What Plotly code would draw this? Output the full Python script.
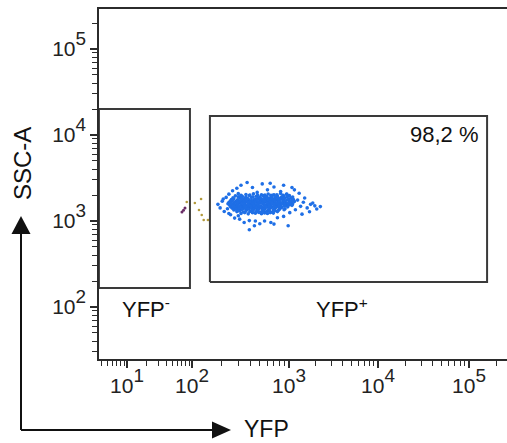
import numpy as np
import plotly.graph_objects as go

# ---------------- data ----------------
# YFP+ events: (YFP, SSC-A)
POS_CORE = [
    (300,2080),(360,2030),(430,2070),(520,2010),(610,2060),(700,2020),(820,2090),(940,2040),
    (280,1960),(330,1930),(390,1980),(460,1940),(540,1970),(590,1920),(680,1990),(760,1950),(880,1930),(1010,1970),
    (265,1860),(310,1880),(350,1840),(410,1870),(480,1830),(560,1865),(630,1845),(720,1875),(800,1835),(900,1860),(1050,1850),
    (255,1775),(295,1760),(340,1790),(385,1765),(440,1780),(500,1755),(570,1785),(650,1770),(740,1760),(830,1790),(960,1765),(1120,1775),
    (248,1705),(285,1690),(325,1715),(370,1695),(420,1710),(470,1685),(530,1700),(600,1720),(680,1690),(770,1705),(870,1695),(1000,1715),(1150,1690),
    (240,1640),(275,1650),(315,1630),(355,1645),(400,1625),(450,1655),(505,1635),(565,1650),(640,1630),(720,1645),(810,1625),(920,1650),(1060,1640),
    (235,1585),(268,1570),(300,1590),(340,1575),(385,1595),(430,1565),(480,1580),(540,1600),(605,1570),(680,1585),(760,1575),(860,1595),(980,1570),(1100,1585),
    (245,1525),(280,1510),(320,1530),(360,1515),(405,1520),(455,1535),(515,1505),(580,1525),(650,1515),(730,1530),(820,1510),(940,1525),(1080,1520),
    (250,1465),(290,1450),(330,1470),(375,1455),(420,1460),(470,1475),(530,1445),(595,1465),(670,1455),(750,1470),(850,1450),(970,1460),
    (260,1405),(300,1390),(345,1410),(390,1395),(440,1400),(495,1415),(560,1385),(630,1405),(710,1395),(800,1410),(910,1390),
    (270,1345),(315,1330),(365,1350),(415,1335),(470,1340),(535,1355),(605,1325),(690,1345),(780,1335),(890,1350),
    (290,1285),(340,1270),(395,1290),(455,1275),(520,1280),(590,1295),(670,1265),(760,1285),
    (320,1225),(380,1210),(450,1230),(520,1215),(600,1220),(690,1235),
]
POS_CORE_2 = [
    (320,1995),(395,2005),(475,1990),(565,2000),(650,1985),(750,2010),(870,1995),
    (300,1905),(360,1895),(425,1910),(500,1890),(580,1905),(660,1900),(740,1915),(840,1895),(960,1905),
    (270,1815),(325,1805),(375,1820),(450,1800),(520,1815),(600,1810),(690,1800),(780,1820),(880,1810),(1000,1800),
    (262,1740),(315,1730),(360,1745),(410,1725),(465,1740),(540,1735),(615,1745),(700,1725),(790,1740),(900,1730),(1080,1735),
    (255,1672),(300,1665),(345,1680),(395,1660),(445,1675),(500,1668),(560,1680),(630,1662),(710,1675),(790,1668),(890,1680),(1030,1665),
    (250,1612),(290,1605),(335,1618),(380,1600),(425,1612),(480,1608),(535,1620),(600,1602),(670,1615),(745,1608),(840,1620),(960,1605),
    (255,1552),(295,1545),(338,1558),(380,1540),(425,1552),(478,1548),(550,1560),(625,1542),(705,1555),(790,1545),(900,1558),(1020,1548),
    (262,1492),(305,1485),(350,1498),(395,1480),(440,1492),(500,1488),(560,1500),(630,1482),(705,1495),(790,1485),(900,1498),
    (275,1432),(318,1425),(360,1438),(410,1420),(460,1432),(515,1428),(580,1440),(650,1422),(730,1435),(830,1428),
    (285,1372),(330,1365),(380,1378),(430,1360),(485,1372),(545,1368),(620,1380),(700,1362),(800,1375),
    (305,1312),(360,1305),(420,1318),(480,1300),(550,1312),(630,1308),(720,1318),
    (350,1252),(420,1245),(490,1258),(560,1240),(640,1252),
]
POS_SPARSE = [
    (185,1560),(195,1420),(205,1700),(215,1290),(225,1880),(232,1390),(240,2050),(250,1180),
    (262,2250),(275,1080),(290,2400),(300,1150),(320,2600),(345,960),(370,2800),(390,1010),
    (420,2450),(440,880),(470,2150),(500,930),(530,2700),(560,1000),(600,2300),(650,960),
    (700,2480),(760,1090),(820,2200),(880,1130),(950,2050),(1020,1250),(1100,1900),(1180,1350),
    (1250,1750),(1350,1480),(1450,1650),(1600,1420),(1750,1560),(1950,1500),(2250,1470),(1300,2100),
    (1150,2300),(1500,1850),(390,790),(1850,1620),(2050,1380),(1700,1280),(1400,1200),(980,880),
    (700,920),(450,1000),(310,1050),(240,1220),(210,1800),(880,2600),(640,2750),(1080,2450),
]
# other (non YFP+) events
NEG_PURPLE = [(70,1274),(78,1416),(74,1330)]
NEG_OLIVE = [(107,1618),(124,1801),(118,1343),(132,1028),(146,1028),(83,1660),(126,1175)]

# gates: (YFP min, YFP max), (SSC min, SSC max)
GATE_NEG_YFP = (3.7, 93)
GATE_NEG_SSC = (166, 20050)
GATE_POS_YFP = (153, 158000)
GATE_POS_SSC = (195, 16630)
GATE_POS_PCT = "98,2 %"

X_TICK_EXP = [1, 2, 3, 4, 5]
Y_TICK_EXP = [2, 3, 4, 5]

# ---------------- logicle-like YFP display scale ----------------
X_DECADES = [1, 2, 3, 4, 5]
X_DECADE_POS = [0.0, 0.65, 1.62, 2.51, 3.42]
LOW_SLOPE, HIGH_SLOPE = 0.65, 0.91


def xdisp(v):
    lv = np.log10(np.asarray(v, dtype=float))
    out = np.interp(lv, X_DECADES, X_DECADE_POS)
    out = np.where(lv < X_DECADES[0], X_DECADE_POS[0] + (lv - X_DECADES[0]) * LOW_SLOPE, out)
    out = np.where(lv > X_DECADES[-1], X_DECADE_POS[-1] + (lv - X_DECADES[-1]) * HIGH_SLOPE, out)
    return out


X_RANGE = [-0.28, 3.80]
Y_RANGE = [1.395, 5.465]

INK = "#2b2b2b"
BLUE = "#1f6fe6"
FONT = "Liberation Sans, Arial, sans-serif"


def sup_label(e, size=27):
    return f'10<span style="font-size:{size}px"><sup>{e}</sup></span>'


fig = go.Figure()

pos = POS_CORE + POS_CORE_2 + POS_SPARSE
fig.add_trace(go.Scatter(
    x=xdisp([p[0] for p in pos]), y=[p[1] for p in pos], mode="markers",
    marker=dict(size=3.6, color=BLUE, line=dict(width=0)), showlegend=False, hoverinfo="skip"))
fig.add_trace(go.Scatter(
    x=xdisp([p[0] for p in NEG_PURPLE]), y=[p[1] for p in NEG_PURPLE], mode="markers",
    marker=dict(size=3, color="#6a2d66"), showlegend=False, hoverinfo="skip"))
fig.add_trace(go.Scatter(
    x=xdisp([p[0] for p in NEG_OLIVE]), y=[p[1] for p in NEG_OLIVE], mode="markers",
    marker=dict(size=2.6, color="#b39a3c"), showlegend=False, hoverinfo="skip"))


def gate(xr, yr):
    x0, x1 = xdisp(list(xr))
    y0, y1 = yr
    return go.Scatter(x=[x0, x1, x1, x0, x0], y=[y0, y0, y1, y1, y0], mode="lines",
                      line=dict(color="#3a3a3a", width=2), showlegend=False, hoverinfo="skip")


fig.add_trace(gate(GATE_NEG_YFP, GATE_NEG_SSC))
fig.add_trace(gate(GATE_POS_YFP, GATE_POS_SSC))

# minor ticks
x_minor = [k * 10 ** d for d in range(0, 6) for k in range(2, 10)]
x_minor = [v for v in x_minor if X_RANGE[0] <= float(xdisp(v)) <= X_RANGE[1]]
y_minor = [k * 10 ** d for d in range(1, 6) for k in range(2, 10)]
y_minor = [v for v in y_minor if Y_RANGE[0] <= np.log10(v) <= Y_RANGE[1]]

fig.update_xaxes(
    type="linear", range=X_RANGE, showgrid=False, zeroline=False,
    showline=True, linecolor=INK, linewidth=1.5, mirror=True,
    ticks="outside", ticklen=7, tickwidth=1.5, tickcolor=INK,
    tickmode="array", tickvals=list(xdisp([10 ** e for e in X_TICK_EXP])),
    ticktext=[sup_label(e) for e in X_TICK_EXP],
    tickfont=dict(family=FONT, size=21, color="#222"),
    minor=dict(tickmode="array", tickvals=list(xdisp(x_minor)), ticks="outside",
               ticklen=5, tickwidth=1.2, tickcolor=INK, showgrid=False),
)
fig.update_yaxes(
    type="log", range=Y_RANGE, showgrid=False, zeroline=False,
    showline=True, linecolor=INK, linewidth=1.5, mirror=False,
    ticks="outside", ticklen=7, tickwidth=1.5, tickcolor=INK,
    tickmode="array", tickvals=[10 ** e for e in Y_TICK_EXP],
    ticktext=[sup_label(e) for e in Y_TICK_EXP],
    tickfont=dict(family=FONT, size=21, color="#222"),
    minor=dict(tickmode="array", tickvals=y_minor, ticks="outside",
               ticklen=5, tickwidth=1.2, tickcolor=INK, showgrid=False),
)

W, H = 507, 443
ML, MR, MT, MB = 99, 0, 9, 84
PW, PH = W - ML - MR, H - MT - MB


def px(xp):
    return (xp - ML) / PW


def py(yp):
    return (H - MB - yp) / PH


ann = []
ann.append(dict(text=GATE_POS_PCT, x=px(481), y=py(134), xanchor="right", yanchor="middle",
                font=dict(family=FONT, size=22, color="#111")))
ann.append(dict(text="YFP<sup>-</sup>", x=px(146), y=py(308), xanchor="center", yanchor="middle",
                font=dict(family=FONT, size=22, color="#111")))
ann.append(dict(text="YFP<sup>+</sup>", x=px(342), y=py(308), xanchor="center", yanchor="middle",
                font=dict(family=FONT, size=22, color="#111")))
ann.append(dict(text="SSC-A", x=px(22), y=py(164), xanchor="center", yanchor="middle", textangle=-90,
                font=dict(family=FONT, size=24, color="#111")))
ann.append(dict(text="YFP", x=px(266), y=py(429), xanchor="center", yanchor="middle",
                font=dict(family=FONT, size=23, color="#111")))
for a in ann:
    a.update(xref="paper", yref="paper", showarrow=False)

shapes = [
    dict(type="line", x0=px(21), y0=py(430), x1=px(21), y1=py(232), line=dict(color="#111", width=2)),
    dict(type="line", x0=px(21), y0=py(430), x1=px(214), y1=py(430), line=dict(color="#111", width=2)),
    dict(type="path", path=f"M {px(21)},{py(216)} L {px(11.5)},{py(234)} L {px(30.5)},{py(234)} Z",
         fillcolor="#111", line=dict(width=0)),
    dict(type="path", path=f"M {px(231)},{py(430)} L {px(212)},{py(421.5)} L {px(212)},{py(438.5)} Z",
         fillcolor="#111", line=dict(width=0)),
]
for s in shapes:
    s.update(xref="paper", yref="paper", layer="above")

fig.update_layout(
    width=W, height=H, margin=dict(l=ML, r=MR, t=MT, b=MB),
    paper_bgcolor="white", plot_bgcolor="white",
    annotations=ann, shapes=shapes, showlegend=False,
    font=dict(family=FONT),
)

fig.write_html("out.html")
